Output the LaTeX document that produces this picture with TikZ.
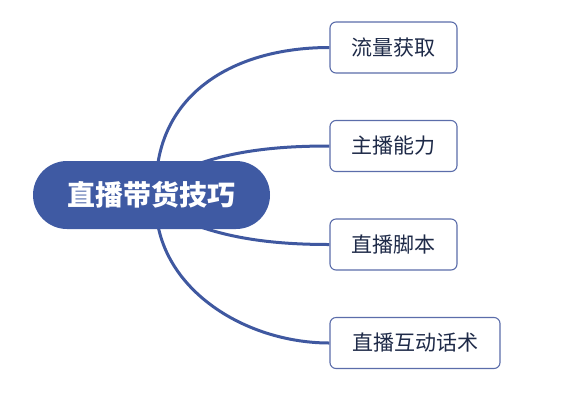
\documentclass[tikz,border=0pt]{standalone}
\usepackage{fontspec}
\setmainfont{Noto Sans CJK SC}
\usetikzlibrary{backgrounds}
\definecolor{mainblue}{HTML}{3F5AA3}
\definecolor{edgeblue}{HTML}{3F58A0}
\definecolor{boxline}{HTML}{5B6DAA}
\definecolor{txt}{HTML}{1E2A48}
\begin{document}
\begin{tikzpicture}[x=1pt,y=-1pt,
  rootnode/.style={fill=mainblue, rounded corners=34pt, text=white, font=\fontsize{28}{30}\selectfont\bfseries,
    minimum width=237pt, minimum height=68pt, inner sep=0pt},
  leaf/.style={draw=boxline, line width=1.1pt, rounded corners=6pt, fill=white, text=txt,
    font=\fontsize{21}{23}\selectfont, minimum height=51pt, inner sep=0pt},
  link/.style={draw=edgeblue, line width=3pt}]
\useasboundingbox (0,0) rectangle (580,400);
\node[rootnode] (root) at (151.5,195) {直播带货技巧};
\node[leaf, minimum width=127pt] (b1) at (393.5,47.5) {流量获取};
\node[leaf, minimum width=127pt] (b2) at (393.5,146) {主播能力};
\node[leaf, minimum width=127pt] (b3) at (393.5,244.5) {直播脚本};
\node[leaf, minimum width=170pt] (b4) at (415,343) {直播互动话术};
\coordinate (s1) at (157,170);
\coordinate (s2) at (178,172);
\coordinate (s3) at (178,218);
\coordinate (s4) at (157,220);
\begin{scope}[on background layer]
\draw[link] (s1) .. controls (166,88) and (240,47.5) .. (b1.west);
\draw[link] (s2) .. controls (226,150) and (280,146) .. (b2.west);
\draw[link] (s3) .. controls (226,240) and (280,244.5) .. (b3.west);
\draw[link] (s4) .. controls (168,295) and (250,343) .. (b4.west);
\end{scope}
\end{tikzpicture}
\end{document}
